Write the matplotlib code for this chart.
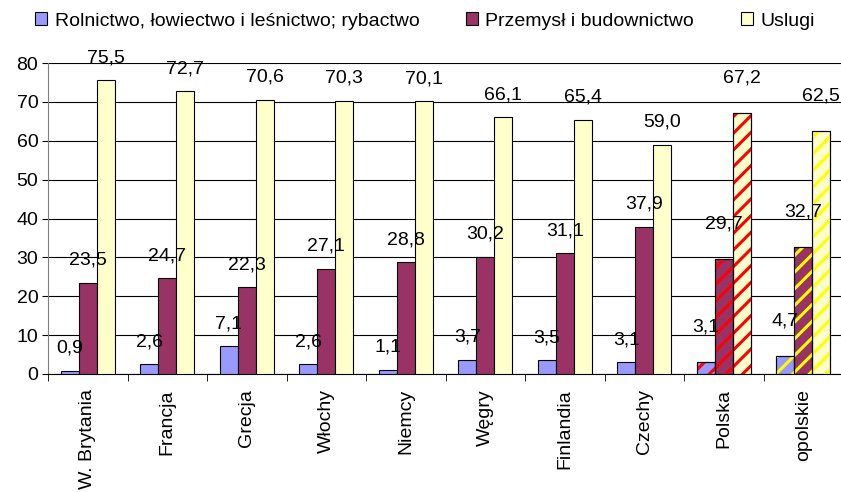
import matplotlib.pyplot as plt
import numpy as np

plt.rcParams['font.family'] = ['Liberation Sans', 'DejaVu Sans']

countries = ["W. Brytania", "Francja", "Grecja", "Włochy", "Niemcy",
             "Węgry", "Finlandia", "Czechy", "Polska", "opolskie"]
rolnictwo = [0.9, 2.6, 7.1, 2.6, 1.1, 3.7, 3.5, 3.1, 3.1, 4.7]
przemysl = [23.5, 24.7, 22.3, 27.1, 28.8, 30.2, 31.1, 37.9, 29.7, 32.7]
uslugi = [75.5, 72.7, 70.6, 70.3, 70.1, 66.1, 65.4, 59.0, 67.2, 62.5]
series_names = ["Rolnictwo, łowiectwo i leśnictwo; rybactwo",
                "Przemysł i budownictwo", "Uslugi"]
colors = ["#9999FF", "#993366", "#FFFFCC"]
# stripe colours for the highlighted groups (Polska, opolskie)
stripe = {8: "#FF0000", 9: "#FFFF00"}

fig = plt.figure(figsize=(8.41, 4.92), dpi=100)
ax = fig.add_axes([48 / 841, 118 / 492, 795 / 841, 311 / 492])

x = np.arange(len(countries))
w = 0.225
plt.rcParams['hatch.linewidth'] = 2.2

for k, (vals, col, name) in enumerate(zip([rolnictwo, przemysl, uslugi], colors, series_names)):
    pos = x + (k - 1) * w
    ax.bar(pos, vals, w, color=col, edgecolor="black", linewidth=0.8,
           label=name, zorder=3)
    for i, sc in stripe.items():
        ax.bar(pos[i], vals[i], w, color="none", edgecolor=sc, linewidth=0,
               hatch="//", zorder=4)
        ax.bar(pos[i], vals[i], w, color="none", edgecolor="black",
               linewidth=0.8, zorder=5)
    for i, v in enumerate(vals):
        off = 19 if i >= 8 else 10
        ax.annotate(f"{v:.1f}".replace(".", ","), (pos[i], v),
                    xytext=(0, off), textcoords="offset points",
                    ha="center", va="bottom", fontsize=14, zorder=6,
                    annotation_clip=False)

ax.set_xlim(-0.5, len(countries) - 0.5)
ax.set_ylim(0, 80)
ax.set_yticks(range(0, 81, 10))
ax.yaxis.grid(True, color="black", linewidth=0.8, zorder=0)
ax.set_axisbelow(True)
ax.set_xticks(x)
ax.set_xticklabels(countries, rotation=90, fontsize=14)
ax.set_xticks(np.arange(-0.5, len(countries), 1), minor=True)
ax.tick_params(axis="x", which="major", length=0, pad=11)
ax.tick_params(axis="x", which="minor", length=5, direction="out")
ax.tick_params(axis="y", labelsize=14, length=4, pad=3)
for s in ["top", "right"]:
    ax.spines[s].set_visible(False)
ax.spines["left"].set_color("#808080")
ax.spines["bottom"].set_color("black")

leg = fig.legend(loc="center", bbox_to_anchor=(425 / 841, 1 - 21 / 492), ncol=3,
                 frameon=False, fontsize=14, handlelength=0.6,
                 handleheight=0.6, handletextpad=0.4, columnspacing=2.4,
                 borderpad=0)

fig.savefig("out.png", dpi=100)
